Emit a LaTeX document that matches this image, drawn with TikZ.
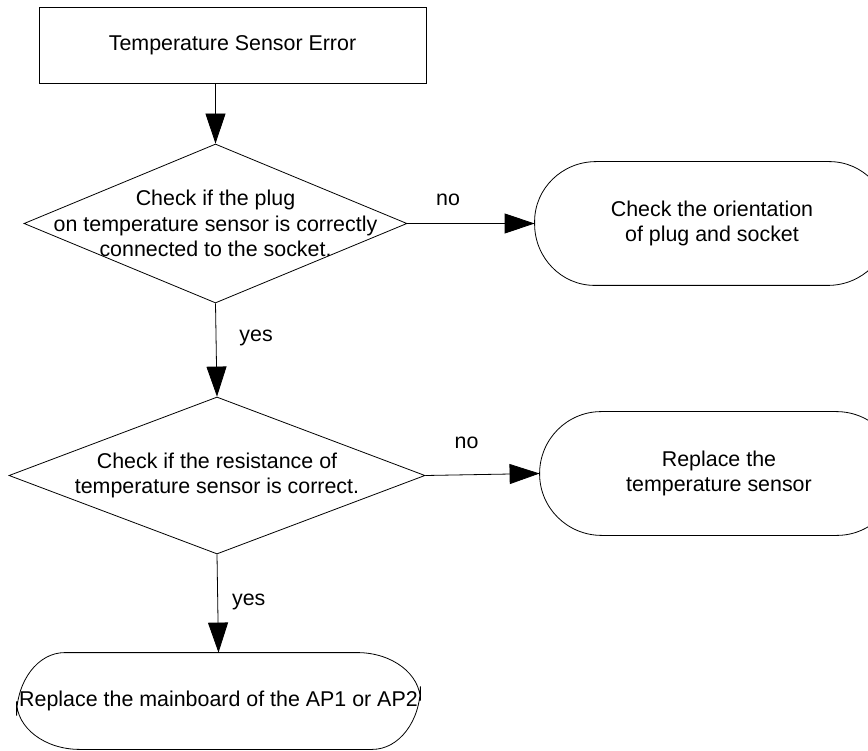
\documentclass[tikz,border=0pt]{standalone}
\usepackage{fontspec}
\setmainfont{Liberation Sans}
\usetikzlibrary{arrows.meta,shapes.geometric}

\begin{document}
\begin{tikzpicture}[x=1pt,y=1pt,line width=0.8pt,
  font=\fontsize{21.4}{25.5}\selectfont,
  startbox/.style={draw,rectangle,minimum width=387pt,minimum height=76pt,inner sep=0pt},
  decision/.style={draw,diamond,inner sep=0pt},
  terminal/.style={rectangle,inner sep=0pt,minimum height=123pt,align=center},
  capsule/.code 2 args={\pgfsetcornersarced{\pgfpoint{#1}{#2}}},
  flow/.style={-{Triangle[length=30pt,width=20pt]}},
  tag/.style={inner sep=0pt}]
  \useasboundingbox (0,0) rectangle (868,-751);
  % boxes
  \node[startbox] (err) at (232.5,-45) {Temperature Sensor Error};
  \node[decision,minimum width=383pt,minimum height=159pt,
        label={[align=center]center:Check if the plug\\on temperature sensor is correctly\\connected to the socket.}]
        (plug) at (215.5,-223.5) {};
  \node[terminal,minimum width=354pt] (orient) at (712,-223.5)
        {Check the orientation\\of plug and socket};
  \node[decision,minimum width=416pt,minimum height=157pt,
        label={[align=center]center:Check if the resistance of\\temperature sensor is correct.}]
        (resist) at (217,-475.5) {};
  \node[terminal,minimum width=358pt] (sensor) at (719,-473.5)
        {Replace the\\temperature sensor};
  \node[terminal,minimum width=403pt,minimum height=96pt] (board) at (218.5,-701)
        {Replace the mainboard of the AP1 or AP2};
  % rounded ends
  \draw[capsule={60pt}{61.5pt}] (orient.south west) rectangle (orient.north east);
  \draw[capsule={62pt}{61.5pt}] (sensor.south west) rectangle (sensor.north east);
  \draw[capsule={63pt}{48pt}] (board.south west) rectangle (board.north east);
  % arrows
  \draw[flow] (plug.north |- err.south) -- (plug.north);
  \draw[flow] (plug.east) -- node[tag,pos=0.32,yshift=23.5pt] {no} (orient.west);
  \draw[flow] (plug.south) -- node[tag,pos=0.37,xshift=40pt] {yes} (resist.north);
  \draw[flow] (resist.east) -- node[tag,pos=0.36,yshift=32pt] {no} (sensor.west);
  \draw[flow] (resist.south) -- node[tag,pos=0.48,xshift=31pt] {yes} (board.north);
\end{tikzpicture}
\end{document}
